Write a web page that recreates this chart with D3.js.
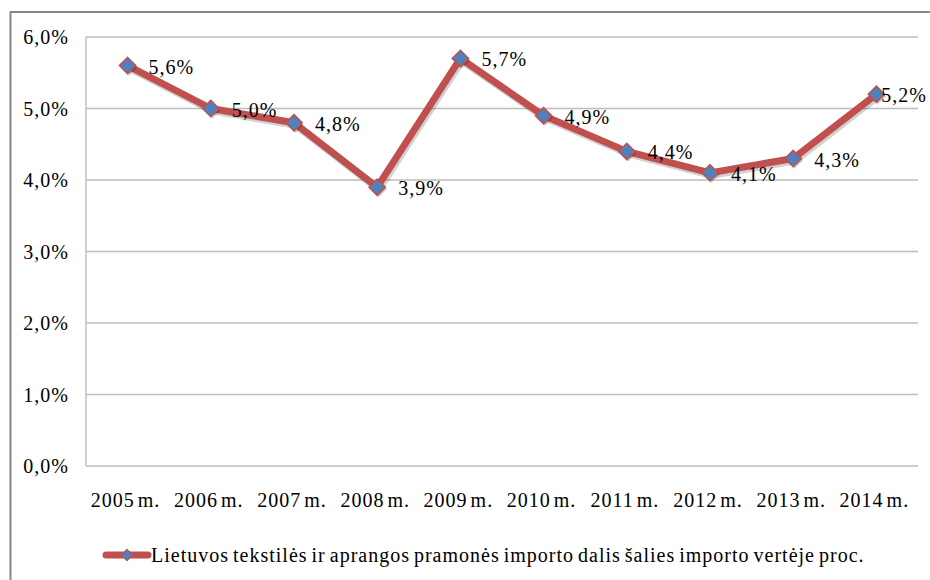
<!DOCTYPE html>
<html>
<head>
<meta charset="utf-8">
<script src="https://cdn.jsdelivr.net/npm/d3@7"></script>
<style>
  html, body { margin: 0; padding: 0; background: #fff; }
  svg { display: block; }
</style>
</head>
<body>
<svg id="chart" width="930" height="580"></svg>
<script>
const categories = ["2005 m.", "2006 m.", "2007 m.", "2008 m.", "2009 m.", "2010 m.", "2011 m.", "2012 m.", "2013 m.", "2014 m."];
const values = [5.6, 5.0, 4.8, 3.9, 5.7, 4.9, 4.4, 4.1, 4.3, 5.2];
const valueLabels = ["5,6%", "5,0%", "4,8%", "3,9%", "5,7%", "4,9%", "4,4%", "4,1%", "4,3%", "5,2%"];
const yTicks = [0, 1, 2, 3, 4, 5, 6];
const yTickLabels = ["0,0%", "1,0%", "2,0%", "3,0%", "4,0%", "5,0%", "6,0%"];
const seriesName = "Lietuvos tekstilės ir aprangos pramonės importo dalis šalies importo vertėje proc.";

const FONT = '"Liberation Serif", Tinos, serif';
const svg = d3.select("#chart");
const plot = { left: 86, right: 918, top: 37, bottom: 466 };
const lineColor = "#C0504D";
const markerColor = "#4F81BD";

function txt(sel) {
  return sel.style("font-family", FONT).attr("font-size", 20).attr("fill", "#000")
    .style("letter-spacing", "1px");
}

// outer chart border (extends beyond the image at right/bottom)
svg.append("rect")
  .attr("x", 10.5).attr("y", 12).attr("width", 940).attr("height", 600)
  .attr("fill", "none").attr("stroke", "#868686").attr("stroke-width", 2);

const x = d3.scaleBand().domain(categories).range([plot.left, plot.right]).padding(0);
const y = d3.scaleLinear().domain([0, 6]).range([plot.bottom, plot.top]);
const cx = (d, i) => x(categories[i]) + x.bandwidth() / 2;

// gridlines
svg.append("g").selectAll("line").data(yTicks).join("line")
  .attr("x1", plot.left).attr("x2", plot.right)
  .attr("y1", d => y(d)).attr("y2", d => y(d))
  .attr("stroke", "#bdbdbd").attr("stroke-width", 1.4);

// vertical axis line
svg.append("line")
  .attr("x1", plot.left).attr("x2", plot.left)
  .attr("y1", plot.top).attr("y2", plot.bottom)
  .attr("stroke", "#bdbdbd").attr("stroke-width", 1.4);

// y tick labels
svg.append("g").selectAll("text").data(yTicks).join("text")
  .attr("x", 69).attr("y", d => y(d) + 7)
  .attr("text-anchor", "end")
  .call(txt)
  .text((d, i) => yTickLabels[i]);

// x tick labels
svg.append("g").selectAll("text").data(categories).join("text")
  .attr("x", d => x(d) + x.bandwidth() / 2 - 2)
  .attr("y", 507)
  .attr("text-anchor", "middle")
  .call(txt)
  .style("word-spacing", "-3px")
  .text(d => d);

// line shadow (offset copy)
const line = d3.line().x((d, i) => cx(d, i)).y(d => y(d));
svg.append("path")
  .datum(values)
  .attr("d", line)
  .attr("transform", "translate(1.5,2)")
  .attr("fill", "none")
  .attr("stroke", "rgba(0,0,0,0.18)")
  .attr("stroke-width", 8)
  .attr("stroke-linejoin", "round");

// line
svg.append("path")
  .datum(values)
  .attr("d", line)
  .attr("fill", "none")
  .attr("stroke", lineColor)
  .attr("stroke-width", 7)
  .attr("stroke-linejoin", "round");

// markers (with offset shadow copies)
const diamond = d3.symbol().type(d3.symbolDiamond2).size(170);
svg.append("g").selectAll("path").data(values).join("path")
  .attr("d", diamond)
  .attr("transform", (d, i) => `translate(${cx(d, i) + 1.5},${y(d) + 2})`)
  .attr("fill", "rgba(0,0,0,0.2)");
svg.append("g").selectAll("path").data(values).join("path")
  .attr("d", diamond)
  .attr("transform", (d, i) => `translate(${cx(d, i)},${y(d)})`)
  .attr("fill", markerColor)
  .attr("stroke", lineColor)
  .attr("stroke-width", 1.5);

// data labels
const labels = svg.append("g").selectAll("text").data(values).join("text")
  .attr("y", d => y(d) + 8)
  .call(txt)
  .text((d, i) => valueLabels[i]);
labels.each(function (d, i) {
  const w = this.getComputedTextLength();
  const lx = Math.min(cx(d, i) + 21, 927 - w);
  d3.select(this).attr("x", lx);
});

// legend
const legY = 555;
svg.append("line")
  .attr("x1", 106).attr("x2", 148).attr("y1", legY).attr("y2", legY)
  .attr("stroke", lineColor).attr("stroke-width", 7).attr("stroke-linecap", "round");
svg.append("path")
  .attr("d", diamond)
  .attr("transform", `translate(127,${legY}) scale(0.7)`)
  .attr("fill", markerColor)
  .attr("stroke", lineColor)
  .attr("stroke-width", 1.5);
svg.append("text")
  .attr("x", 151).attr("y", 562)
  .call(txt)
  .style("word-spacing", "-2px")
  .text(seriesName);
</script>
</body>
</html>
